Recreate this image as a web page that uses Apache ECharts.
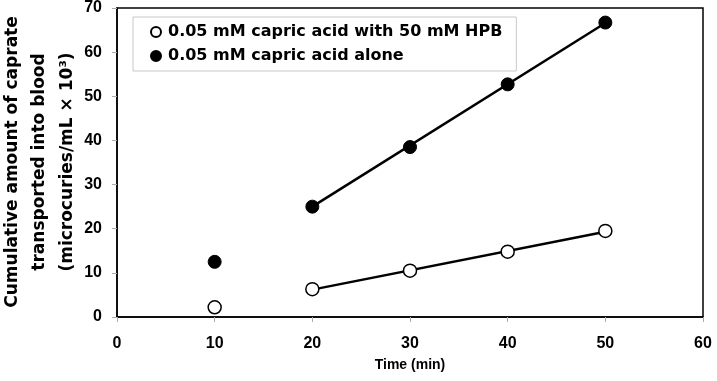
<!DOCTYPE html>
<html><head><meta charset="utf-8">
<script src="https://cdn.jsdelivr.net/npm/echarts@6/dist/echarts.min.js"></script>
<style>html,body{margin:0;padding:0;background:#fff}#c{width:717px;height:381px}</style>
</head><body><div id="c"></div>
<script>
const timeMin = [10, 20, 30, 40, 50];
const withHPB = [2.2, 6.3, 10.5, 14.8, 19.5];
const alone = [12.5, 25.0, 38.5, 52.7, 66.7];
const fitTime = [20, 50];
const fitWithHPB = [6.2, 19.3];
const fitAlone = [25.0, 66.6];
const nameWith = '0.05 mM capric acid with 50 mM HPB';
const nameAlone = '0.05 mM capric acid alone';
const yTitleLines = ['Cumulative amount of caprate', 'transported into blood', '(microcuries/mL \u00d7 10\u00b3)'];

const pairs = (xs, ys) => xs.map((x, i) => [x, ys[i]]);
const font = 'Liberation Sans, Arial, sans-serif';
const wide = 'DejaVu Sans, sans-serif';
const chart = echarts.init(document.getElementById('c'));
const titleX = [13, 40, 68];
chart.setOption({
  animation: false,
  grid: { left: 117, right: 14, top: 7, bottom: 64, show: true, borderColor: '#000', borderWidth: 1.5, backgroundColor: 'transparent' },
  legend: {
    orient: 'vertical', left: 133, top: 17,
    data: [nameWith, nameAlone],
    borderColor: '#c8c8c8', borderWidth: 1, padding: [7, 14, 7, 17],
    itemWidth: 10, itemHeight: 10, itemGap: 8,
    textStyle: { fontFamily: wide, fontWeight: 'bold', fontSize: 16, color: '#000', padding: [0, 0, 0, 2] }
  },
  xAxis: {
    type: 'value', min: 0, max: 60, interval: 10,
    name: 'Time (min)', nameLocation: 'middle', nameGap: 41,
    nameTextStyle: { fontFamily: font, fontWeight: 'bold', fontSize: 14, color: '#000' },
    axisLine: { lineStyle: { color: '#000', width: 1.5 } },
    axisTick: { length: 5, lineStyle: { color: '#aaa' } },
    axisLabel: { fontFamily: font, fontWeight: 'bold', fontSize: 16, color: '#000', margin: 19 },
    splitLine: { show: false }
  },
  yAxis: {
    type: 'value', min: 0, max: 70, interval: 10,
    axisLine: { show: true, lineStyle: { color: '#000', width: 1.5 } },
    axisTick: { show: true, length: 5, lineStyle: { color: '#aaa' } },
    axisLabel: { fontFamily: font, fontWeight: 'bold', fontSize: 16, color: '#000', margin: 15 },
    splitLine: { show: false }
  },
  graphic: yTitleLines.map((t, i) => ({
    type: 'text', x: titleX[i], y: 162, rotation: Math.PI / 2,
    style: { text: t, font: 'bold 17px ' + wide, fill: '#000', textAlign: 'center', textVerticalAlign: 'middle' }
  })),
  series: [
    { name: 'fitWith', type: 'line', data: pairs(fitTime, fitWithHPB), symbol: 'none', lineStyle: { color: '#000', width: 2.5 }, z: 1 },
    { name: 'fitAlone', type: 'line', data: pairs(fitTime, fitAlone), symbol: 'none', lineStyle: { color: '#000', width: 2.5 }, z: 1 },
    { name: nameWith, type: 'scatter', data: pairs(timeMin, withHPB), symbol: 'circle', symbolSize: 13,
      itemStyle: { color: '#fff', borderColor: '#000', borderWidth: 1.5, opacity: 1 }, z: 3 },
    { name: nameAlone, type: 'scatter', data: pairs(timeMin, alone), symbol: 'circle', symbolSize: 13,
      itemStyle: { color: '#000', borderColor: '#000', borderWidth: 1, opacity: 1 }, z: 3 }
  ]
});
</script></body></html>
